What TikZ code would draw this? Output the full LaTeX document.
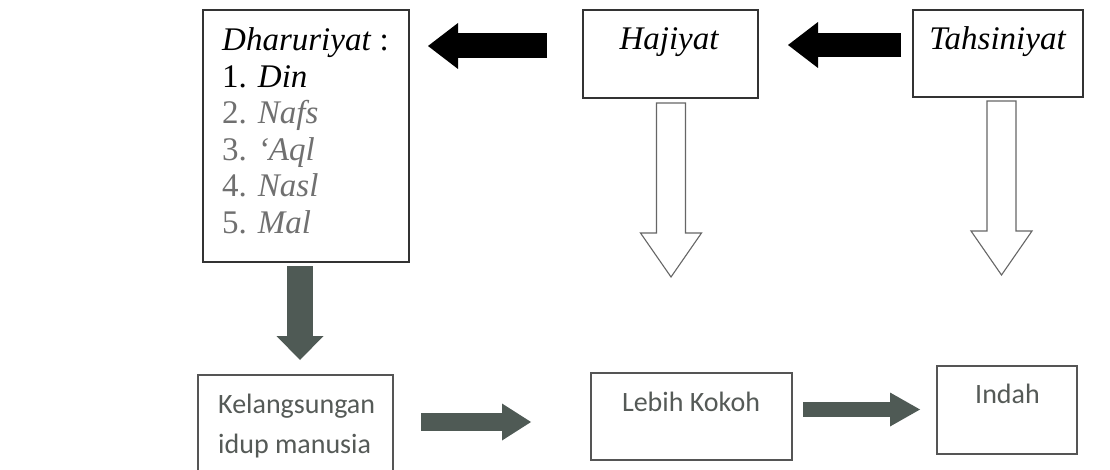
\documentclass[tikz,border=0pt]{standalone}
\usepackage{fontspec}
\setmainfont{Liberation Serif}
\newfontfamily\calib{Carlito}
\usetikzlibrary{arrows.meta}
\definecolor{boxline}{HTML}{333333}
\definecolor{lowline}{HTML}{555555}
\definecolor{graytxt}{HTML}{707070}
\definecolor{lowtxt}{HTML}{555A57}
\definecolor{darkarrow}{HTML}{4F5A55}
\definecolor{hollowline}{HTML}{666666}
\tikzset{
  topbox/.style={draw=boxline, line width=1.2pt, inner sep=0pt},
  lowbox/.style={draw=lowline, line width=1.1pt, inner sep=0pt},
  serifbig/.style={inner sep=0pt, font={\fontsize{33}{36.5}\selectfont\itshape}},
  sansbig/.style={inner sep=0pt, text=lowtxt, font={\calib\fontsize{28}{40}\selectfont}},
  blackarrow/.style={line width=#1, -{Triangle[length=30pt,width=46pt,line width=0pt]}},
  darkfat/.style={draw=darkarrow, color=darkarrow},
  hollowstyle/.style={draw=hollowline, line width=1.1pt, fill=white, line join=miter},
  pics/hollowdown/.style={code={
    \draw[hollowstyle] (-14.5,0) -- (14.5,0) -- (14.5,#1-44) -- (30.5,#1-44)
      -- (0,#1) -- (-30.5,#1-44) -- (-14.5,#1-44) -- cycle;}}
}
\begin{document}
\begin{tikzpicture}[x=1pt,y=-1pt]
\path[use as bounding box] (0,0) rectangle (1110,470);
\clip (0,0) rectangle (1110,470);
\fill[white] (0,0) rectangle (1110,470);

% boxes
\node[topbox, minimum width=206pt, minimum height=252pt] (dhar) at (306,136) {};
\node[topbox, minimum width=175pt, minimum height=88pt] (haj) at (670.5,54) {};
\node[topbox, minimum width=170pt, minimum height=87pt] (tah) at (998,53.5) {};
\node[lowbox, minimum width=195pt, minimum height=110pt] (kel) at (295.5,430) {};
\node[lowbox, minimum width=201pt, minimum height=87pt] (leb) at (691.5,416.5) {};
\node[lowbox, minimum width=140pt, minimum height=88pt] (ind) at (1007,410) {};

% texts
\node[serifbig, anchor=north west, align=left] (dhart) at (222,27.5)
  {\textit{Dharuriyat} \textup{:}\\
   \textup{1.} \textit{Din}\\
   \color{graytxt}\textup{2.} \textit{Nafs}\\
   \color{graytxt}\textup{3.} \textit{`Aql}\\
   \color{graytxt}\textup{4.} \textit{Nasl}\\
   \color{graytxt}\textup{5.} \textit{Mal}};
\node[serifbig, anchor=base] (hajt) at (669,50) {Hajiyat};
\node[serifbig, anchor=base] (taht) at (997.5,50) {Tahsiniyat};
\node[sansbig, anchor=north west, align=left] (kelt) at (218,393.5)
  {Kelangsungan\\idup manusia};
\node[sansbig, anchor=base] (lebt) at (691,411) {Lebih Kokoh};
\node[sansbig, anchor=base] (indt) at (1007.5,403) {Indah};

% black arrows (top row)
\coordinate (a1s) at (547,46);
\coordinate (a1e) at (428,46);
\coordinate (a2s) at (901,45);
\coordinate (a2e) at (788,45);
\draw[blackarrow=25pt] (a1s) -- (a1e);
\draw[blackarrow=24pt] (a2s) -- (a2e);

% hollow down arrows
\coordinate (h1) at (671,103);
\coordinate (h2) at (1001.5,101);
\pic at (h1) {hollowdown=174};
\pic at (h2) {hollowdown=174};

% dark filled arrows
\coordinate (d1s) at (300,266);
\coordinate (d1e) at (300,360);
\draw[darkfat, line width=26pt, -{Triangle[length=24pt,width=47pt,line width=0pt]}] (d1s) -- (d1e);
\coordinate (r1s) at (421,422);
\coordinate (r1e) at (531,422);
\draw[darkfat, line width=18pt, -{Triangle[length=29pt,width=37pt,line width=0pt]}] (r1s) -- (r1e);
\coordinate (r2s) at (803,409.5);
\coordinate (r2e) at (920,409.5);
\draw[darkfat, line width=15pt, -{Triangle[length=30pt,width=34pt,line width=0pt]}] (r2s) -- (r2e);
\end{tikzpicture}
\end{document}
